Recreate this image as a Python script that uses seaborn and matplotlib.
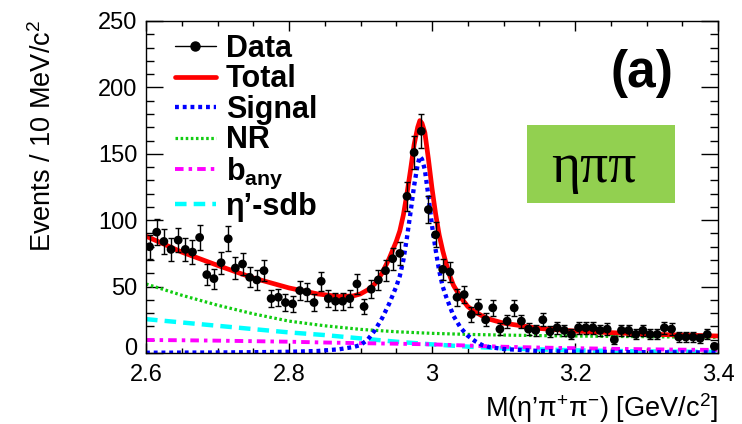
import numpy as np
import pandas as pd
import seaborn as sns
import matplotlib
matplotlib.use("Agg")
import matplotlib.pyplot as plt
import matplotlib.transforms as mtransforms
from matplotlib.lines import Line2D
from matplotlib.patches import Rectangle
from matplotlib.ticker import MultipleLocator

# ---------------- data ----------------
bin_lo, bin_hi, bin_w = 2.60, 3.40, 0.01
counts = [80, 91, 84, 78, 85, 78, 76, 87, 59, 56, 68, 86, 64, 67, 57, 55, 62, 41, 42, 38, 37,
          47, 46, 38, 54, 41, 39, 39, 41, 52, 35, 48, 55, 62, 71, 75, 118, 151, 167, 108, 89, 63,
          61, 42, 44, 29, 35, 25, 34, 18, 24, 34, 24, 18, 17, 25, 16, 19, 17, 14, 19, 19, 19, 17,
          18, 10, 17, 17, 14, 17, 14, 14, 19, 18, 12, 12, 12, 11, 14, 5]

bkg_x = [2.60, 2.65, 2.70, 2.75, 2.80, 2.85, 2.90, 2.95, 3.00, 3.05, 3.10, 3.15, 3.20, 3.25, 3.30, 3.35, 3.40]
nr_y = [52, 43.5, 36, 29.5, 24, 20.5, 17.8, 16, 14.8, 14, 13.5, 13.1, 12.8, 12.5, 12.3, 12.0, 11.8]
sdb_y = [25.5, 23, 20.5, 18, 15.5, 13.5, 11, 8.5, 6.5, 4.8, 3.5, 2.7, 2.0, 1.6, 1.2, 1.0, 0.8]
bany_y = [9.8, 9.6, 9.3, 8.9, 8.5, 7.9, 7.4, 7.0, 6.5, 5.6, 4.7, 4.1, 3.6, 3.2, 2.8, 2.5, 2.3]

peak_x = [2.60, 2.65, 2.70, 2.75, 2.80, 2.84, 2.87, 2.89, 2.90, 2.91, 2.92, 2.93, 2.94, 2.95,
          2.955, 2.96, 2.965, 2.97, 2.975, 2.98, 2.983, 2.986, 2.99, 2.995, 3.00, 3.005, 3.01,
          3.015, 3.02, 3.025, 3.03, 3.04, 3.05, 3.06, 3.07, 3.08, 3.10, 3.15, 3.20, 3.30, 3.40]
signal_y = [0.2, 0.3, 0.4, 0.6, 0.9, 1.5, 2.8, 4.5, 6, 10, 17, 26, 37, 50,
            58, 70, 87, 106, 126, 142, 148, 146, 138, 118, 96, 78, 62,
            50, 42, 35, 28, 19, 13, 9, 6, 4.5, 3, 1.5, 1.0, 0.6, 0.4]
total_y = [88, 76, 66, 56.5, 49, 44.5, 42.5, 43, 44.5, 47.5, 52, 60, 71, 84,
           92, 104, 120, 138, 157, 170, 175, 173, 166, 146, 124, 105, 89,
           77, 67, 58, 51, 42, 35, 31, 28, 25.5, 22.5, 18.5, 16.5, 14.2, 12.8]

x_ticks = [2.6, 2.8, 3.0, 3.2, 3.4]
x_ticklabels = ["2.6", "2.8", "3", "3.2", "3.4"]
y_ticks = [0, 50, 100, 150, 200, 250]

labels = ["Data", "Total", "Signal", "NR", r"b$_{\mathbf{any}}$", "η’-sdb"]

# ---------------- style ----------------
sns.set_theme(style="ticks")
plt.rcParams["font.family"] = ["Liberation Sans", "DejaVu Sans"]
plt.rcParams["mathtext.fontset"] = "custom"
plt.rcParams["mathtext.rm"] = "Liberation Sans"
plt.rcParams["mathtext.bf"] = "Liberation Sans:bold"
plt.rcParams["mathtext.it"] = "Liberation Sans:italic"
for k in ["text.color", "axes.labelcolor", "xtick.color", "ytick.color", "axes.edgecolor"]:
    plt.rcParams[k] = "black"

W, H = 742, 424
fig = plt.figure(figsize=(W / 100, H / 100), dpi=100)
ax = fig.add_axes([146 / W, 1 - 353 / H, 572 / W, 332 / H])

centers = np.round(np.arange(bin_lo + bin_w / 2, bin_hi, bin_w), 3)
df = pd.DataFrame({"m": centers, "n": counts})
df["err"] = np.sqrt(df["n"])

# curves
sns.lineplot(x=bkg_x, y=nr_y, ax=ax, color="#11CC11", lw=2.3, linestyle=(0, (0.8, 0.8)), sort=False)
h_nr = ax.lines[-1]
sns.lineplot(x=bkg_x, y=sdb_y, ax=ax, color="#00FFFF", lw=3.2, linestyle=(0, (2.6, 1.6)), sort=False)
h_sdb = ax.lines[-1]
sns.lineplot(x=bkg_x, y=bany_y, ax=ax, color="#FF00FF", lw=2.8, linestyle=(0, (2.2, 1.3, 0.9, 1.3)), sort=False)
h_bany = ax.lines[-1]
sns.lineplot(x=peak_x, y=total_y, ax=ax, color="#FF0000", lw=3.4, sort=False)
h_total = ax.lines[-1]
sns.lineplot(x=peak_x, y=signal_y, ax=ax, color="#0000FF", lw=3.1, linestyle=(0, (0.9, 0.9)), sort=False)
h_sig = ax.lines[-1]

# data
ax.errorbar(df["m"], df["n"], yerr=df["err"], fmt="none", ecolor="black", elinewidth=1.0,
            capsize=2.4, capthick=1.0, zorder=5)
sns.scatterplot(data=df, x="m", y="n", ax=ax, color="black", s=40, edgecolor="none", zorder=6)

h_data = Line2D([], [], color="black", lw=1.0, marker="o", ms=6.5)

ax.set_xlim(bin_lo, bin_hi)
ax.set_ylim(0, 250)
ax.set_xticks(x_ticks)
ax.set_xticklabels(x_ticklabels)
ax.set_yticks(y_ticks)
ax.xaxis.set_minor_locator(MultipleLocator(0.05))
ax.yaxis.set_minor_locator(MultipleLocator(10))
ax.tick_params(axis="both", which="both", direction="in", top=True, right=True,
               colors="black", width=1.0)
ax.tick_params(axis="x", which="major", length=7, pad=8, labelsize=17)
ax.tick_params(axis="x", which="minor", length=3.6)
ax.tick_params(axis="y", which="major", length=12, pad=6, labelsize=17)
ax.tick_params(axis="y", which="minor", length=5.8)
for s in ax.spines.values():
    s.set_color("black")
    s.set_linewidth(1.0)
ax.set_xlabel("")
ax.set_ylabel("")

# nudge the "0" label up a little so it does not collide with "2.6"
zero_lbl = ax.get_yticklabels()[0]
zero_lbl.set_transform(zero_lbl.get_transform() +
                       mtransforms.ScaledTranslation(0, 5 / 72, fig.dpi_scale_trans))

fig.text(43 / W, 1 - 20 / H, r"Events / 10 MeV/c$^{2}$", rotation=90, ha="center", va="top",
         fontsize=19.5, color="black")
fig.text(718 / W, 1 - 417 / H, r"M(η’π$^{+}$π$^{-}$) [GeV/c$^{2}$]", ha="right", va="baseline",
         fontsize=19.5, color="black")

leg = ax.legend([h_data, h_total, h_sig, h_nr, h_bany, h_sdb], labels, loc="upper left",
                bbox_to_anchor=(0.05, 0.962), frameon=False,
                prop={"weight": "bold", "size": 22}, handlelength=1.35, handletextpad=0.32,
                labelspacing=0.02, borderpad=0, borderaxespad=0)
for t in leg.get_texts():
    t.set_color("black")

ax.text(0.867, 0.843, "(a)", transform=ax.transAxes, ha="center", va="center",
        fontsize=37, fontweight="bold", color="black")

ax.add_patch(Rectangle((0.666, 0.452), 0.259, 0.235, transform=ax.transAxes,
                       facecolor="#92D050", edgecolor="none", zorder=7))
ax.text(0.783, 0.515, "ηππ", transform=ax.transAxes, ha="center", va="baseline",
        fontsize=40, family=["Liberation Serif", "DejaVu Serif"], color="black", zorder=8)

fig.savefig("out.png", dpi=100)
